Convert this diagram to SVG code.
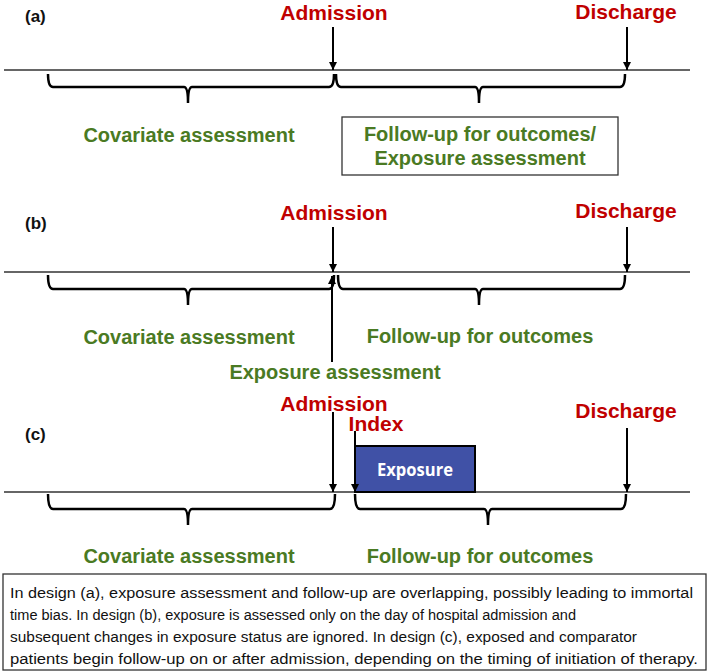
<svg xmlns="http://www.w3.org/2000/svg" width="709" height="671" viewBox="0 0 709 671">
<defs>
<marker id="ah" viewBox="0 0 10 10" refX="10" refY="5" markerWidth="4" markerHeight="4.5" orient="auto" markerUnits="strokeWidth">
<path d="M0,0 L10,5 L0,10 z" fill="#000"/>
</marker>
<style>
.lbl{font-family:"Liberation Sans",Arial,sans-serif;font-weight:bold;}
.red{fill:#c00000;font-size:21px;}
.grn{fill:#4a7a23;font-size:20px;}
.pnl{fill:#111;font-size:17px;}
.axis{stroke:#333;stroke-width:1.3;fill:none;}
.brace{stroke:#000;stroke-width:2.5;fill:none;}
.arr{stroke:#000;stroke-width:2;fill:none;marker-end:url(#ah);}
.cap{font-family:"Liberation Sans",Arial,sans-serif;font-size:15.5px;fill:#111;}
</style>
</defs>
<rect width="709" height="671" fill="#fff"/>

<!-- Panel (a) -->
<g id="panel-a">
<text class="lbl pnl" x="25" y="22">(a)</text>
<line class="axis" x1="4" y1="70" x2="690" y2="70"/>
<g id="a-admission"><text class="lbl red" x="334" y="20" text-anchor="middle">Admission</text></g>
<g id="a-discharge"><text class="lbl red" x="626" y="19" text-anchor="middle">Discharge</text></g>
<path class="brace" d="M48,74 Q48,87 53,87 H184 Q188,87 188,103 Q188,87 192,87 H329 Q334,87 334,74"/>
<path class="brace" d="M336,74 Q336,87 341,87 H475 Q479,87 479,103 Q479,87 483,87 H620 Q625,87 625,74"/>
<g id="a-covariate"><text class="lbl grn" x="189" y="142" text-anchor="middle">Covariate assessment</text></g>
<g id="a-followup">
<rect x="342" y="117" width="276" height="58" fill="#fff" stroke="#333" stroke-width="1.3"/>
<text class="lbl grn" x="480" y="141" text-anchor="middle">Follow-up for outcomes/</text>
<text class="lbl grn" x="480" y="165" text-anchor="middle">Exposure assessment</text>
</g>
</g>

<!-- Panel (b) -->
<g id="panel-b">
<text class="lbl pnl" x="25" y="229">(b)</text>
<line class="axis" x1="4" y1="272" x2="690" y2="272"/>
<g id="b-admission"><text class="lbl red" x="334" y="220" text-anchor="middle">Admission</text></g>
<g id="b-discharge"><text class="lbl red" x="626" y="218" text-anchor="middle">Discharge</text></g>
<path class="brace" d="M48,275 Q48,289 53,289 H184 Q188,289 188,305 Q188,289 192,289 H329 Q334,289 334,275"/>
<path class="brace" d="M338,275 Q338,289 343,289 H475 Q479,289 479,305 Q479,289 483,289 H620 Q625,289 625,275"/>
<g id="b-covariate"><text class="lbl grn" x="189" y="344" text-anchor="middle">Covariate assessment</text></g>
<g id="b-followup"><text class="lbl grn" x="480" y="343" text-anchor="middle">Follow-up for outcomes</text></g>
<g id="b-exposure"><text class="lbl grn" x="335" y="379" text-anchor="middle">Exposure assessment</text></g>
</g>

<!-- Panel (c) -->
<g id="panel-c">
<text class="lbl pnl" x="25" y="440">(c)</text>
<line class="axis" x1="4" y1="492" x2="690" y2="492"/>
<g id="c-admission"><text class="lbl red" x="334" y="411" text-anchor="middle">Admission</text></g>
<g id="c-index"><text class="lbl red" x="376" y="431" text-anchor="middle">Index</text></g>
<g id="c-discharge"><text class="lbl red" x="626" y="418" text-anchor="middle">Discharge</text></g>
<g id="c-exposure">
<rect x="355" y="446" width="120" height="46" fill="#4051a6" stroke="#000" stroke-width="2"/>
<text x="415" y="476" text-anchor="middle" style="font-family:'Open Sans','Noto Sans',sans-serif;font-weight:bold;font-size:17px;fill:#fff" textLength="76" lengthAdjust="spacingAndGlyphs">Exposure</text>
</g>
<path class="brace" d="M48,494 Q48,509 53,509 H184 Q188,509 188,525 Q188,509 192,509 H330 Q335,509 335,494"/>
<path class="brace" d="M355,494 Q355,509 360,509 H484 Q488,509 488,525 Q488,509 492,509 H621 Q626,509 626,494"/>
<g id="c-covariate"><text class="lbl grn" x="189" y="563" text-anchor="middle">Covariate assessment</text></g>
<g id="c-followup"><text class="lbl grn" x="480" y="563" text-anchor="middle">Follow-up for outcomes</text></g>
</g>

<!-- Connectors -->
<g id="connectors">
<line class="arr" x1="333" y1="27" x2="333" y2="70"/>
<line class="arr" x1="627" y1="27" x2="627" y2="70"/>
<line class="arr" x1="333" y1="227" x2="333" y2="272"/>
<line class="arr" x1="627" y1="227" x2="627" y2="272"/>
<line class="arr" x1="332" y1="362" x2="332" y2="276"/>
<line class="arr" x1="333" y1="412" x2="333" y2="492"/>
<line class="arr" x1="355" y1="431" x2="355" y2="492"/>
<line class="arr" x1="627" y1="428" x2="627" y2="492"/>
</g>

<!-- Caption -->
<g id="caption">
<rect x="3" y="574" width="703" height="96" fill="#fff" stroke="#333" stroke-width="1.3"/>
<text class="cap" x="10" y="598" textLength="683" lengthAdjust="spacingAndGlyphs">In design (a), exposure assessment and follow-up are overlapping, possibly leading to immortal</text>
<text class="cap" x="10" y="620" textLength="566" lengthAdjust="spacingAndGlyphs">time bias. In design (b), exposure is assessed only on the day of hospital admission and</text>
<text class="cap" x="10" y="642" textLength="627" lengthAdjust="spacingAndGlyphs">subsequent changes in exposure status are ignored. In design (c), exposed and comparator</text>
<text class="cap" x="10" y="664" textLength="688" lengthAdjust="spacingAndGlyphs">patients begin follow-up on or after admission, depending on the timing of initiation of therapy.</text>
</g>
</svg>
